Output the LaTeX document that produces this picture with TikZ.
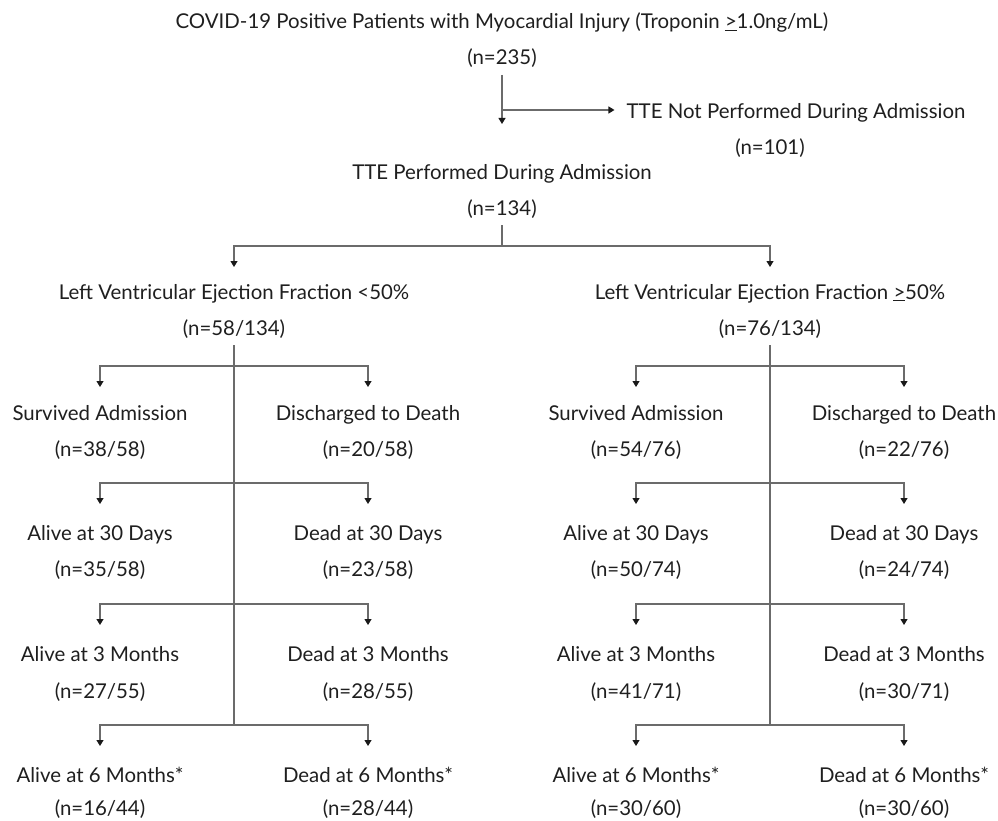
\documentclass[tikz,border=0pt]{standalone}
\usepackage{fontspec}
\setmainfont{Lato}
\usetikzlibrary{arrows.meta}
\begin{document}
\begin{tikzpicture}[x=1pt,y=-1pt,
  lbl/.style={anchor=base,inner sep=0pt,font=\fontsize{20.4}{24}\selectfont,text=black!88},
  ln/.style={draw=black!58,line width=1.1pt},
  tip/.tip={Triangle[length=6pt,width=7pt,color=black!90,fill=black!90]},
  arr/.style={ln,-tip},
  both/.style={ln,tip-tip}]
\useasboundingbox[fill=white] (0,0) rectangle (998,821);
% top
\node[lbl] (title) at (502,29) {COVID-19 Positive Patients with Myocardial Injury (Troponin \underline{>}1.0ng/mL)};
\node[lbl] (n235) at (502,65) {(n=235)};
\node[lbl] (tnp) at (796,119) {TTE Not Performed During Admission};
\node[lbl] (n101) at (770,155) {(n=101)};
\node[lbl] (tp) at (502,179) {TTE Performed During Admission};
\node[lbl] (n134) at (502,215) {(n=134)};
\node[lbl] (lvA) at (234,299) {Left Ventricular Ejection Fraction <50\%};
\node[lbl] (lvAn) at (234,335) {(n=58/134)};
\node[lbl] (lvB) at (770,299) {Left Ventricular Ejection Fraction \underline{>}50\%};
\node[lbl] (lvBn) at (770,335) {(n=76/134)};
% left tree
\node[lbl] (aS) at (100,420) {Survived Admission};
\node[lbl] (aSn) at (100,456) {(n=38/58)};
\node[lbl] (aD) at (368,420) {Discharged to Death};
\node[lbl] (aDn) at (368,456) {(n=20/58)};
\node[lbl] (a30) at (100,540) {Alive at 30 Days};
\node[lbl] (a30n) at (100,576) {(n=35/58)};
\node[lbl] (d30) at (368,540) {Dead at 30 Days};
\node[lbl] (d30n) at (368,576) {(n=23/58)};
\node[lbl] (a3) at (100,661) {Alive at 3 Months};
\node[lbl] (a3n) at (100,698) {(n=27/55)};
\node[lbl] (d3) at (368,661) {Dead at 3 Months};
\node[lbl] (d3n) at (368,698) {(n=28/55)};
\node[lbl] (a6) at (100,782) {Alive at 6 Months*};
\node[lbl] (a6n) at (100,815) {(n=16/44)};
\node[lbl] (d6) at (368,782) {Dead at 6 Months*};
\node[lbl] (d6n) at (368,815) {(n=28/44)};
% right tree
\node[lbl] (bS) at (636,420) {Survived Admission};
\node[lbl] (bSn) at (636,456) {(n=54/76)};
\node[lbl] (bD) at (904,420) {Discharged to Death};
\node[lbl] (bDn) at (904,456) {(n=22/76)};
\node[lbl] (b30) at (636,540) {Alive at 30 Days};
\node[lbl] (b30n) at (636,576) {(n=50/74)};
\node[lbl] (e30) at (904,540) {Dead at 30 Days};
\node[lbl] (e30n) at (904,576) {(n=24/74)};
\node[lbl] (b3) at (636,661) {Alive at 3 Months};
\node[lbl] (b3n) at (636,698) {(n=41/71)};
\node[lbl] (e3) at (904,661) {Dead at 3 Months};
\node[lbl] (e3n) at (904,698) {(n=30/71)};
\node[lbl] (b6) at (636,782) {Alive at 6 Months*};
\node[lbl] (b6n) at (636,815) {(n=30/60)};
\node[lbl] (e6) at (904,782) {Dead at 6 Months*};
\node[lbl] (e6n) at (904,815) {(n=30/60)};
% row levels
\coordinate (y0) at (0,110);
\coordinate (y0t) at (0,124);
\coordinate (y1) at (0,246);
\coordinate (y1t) at (0,267);
\coordinate (r1) at (0,366);  \coordinate (r1t) at (0,387);
\coordinate (r2) at (0,483);  \coordinate (r2t) at (0,504);
\coordinate (r3) at (0,604);  \coordinate (r3t) at (0,625);
\coordinate (r4) at (0,725);  \coordinate (r4t) at (0,746);
% connectors top
\draw[ln] (n235.south |- 0,75) -- (n235.south |- y0);
\draw[arr] (n235.south |- y0) -- (tp.north |- y0t);
\draw[arr] (n235.south |- y0) -- ([xshift=-12pt]tnp.west |- y0);
\draw[ln] (n134.south |- 0,225) -- (n134.south |- y1);
\draw[both] (lvA.north |- y1t) |- (lvB.north |- y1) -- (lvB.north |- y1t);
% trunks
\draw[ln] (lvAn.south |- 0,345) -- (lvAn.south |- r4);
\draw[ln] (lvBn.south |- 0,345) -- (lvBn.south |- r4);
% left branches
\draw[both] (aS |- r1t) |- (aD |- r1) -- (aD |- r1t);
\draw[both] (a30 |- r2t) |- (d30 |- r2) -- (d30 |- r2t);
\draw[both] (a3 |- r3t) |- (d3 |- r3) -- (d3 |- r3t);
\draw[both] (a6 |- r4t) |- (d6 |- r4) -- (d6 |- r4t);
% right branches
\draw[both] (bS |- r1t) |- (bD |- r1) -- (bD |- r1t);
\draw[both] (b30 |- r2t) |- (e30 |- r2) -- (e30 |- r2t);
\draw[both] (b3 |- r3t) |- (e3 |- r3) -- (e3 |- r3t);
\draw[both] (b6 |- r4t) |- (e6 |- r4) -- (e6 |- r4t);
\end{tikzpicture}
\end{document}
